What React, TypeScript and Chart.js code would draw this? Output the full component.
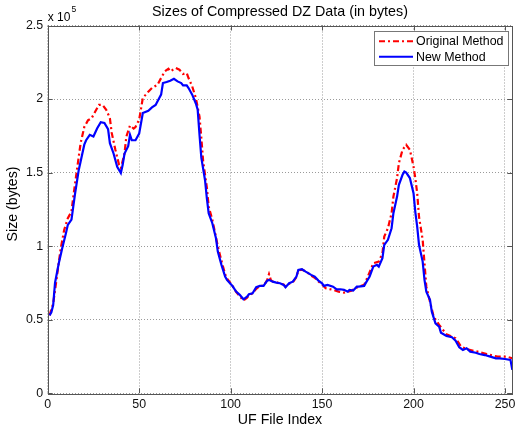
import React, { useEffect, useRef } from "react";
import { Chart, registerables } from "chart.js";

Chart.register(...registerables);

const chartTitle = "Sizes of Compressed DZ Data (in bytes)";
const xTitle = "UF File Index";
const yTitle = "Size (bytes)";
const seriesNames = ["Original Method", "New Method"];

const xTicks = [0, 50, 100, 150, 200, 250];
const yTicks = [0, 50000, 100000, 150000, 200000, 250000];
const yTickLabels = ["0", "0.5", "1", "1.5", "2", "2.5"];

// New Method (blue)
const newIdx = [
  1, 2, 3, 4, 6, 8, 10, 11, 13, 14, 15, 17, 18, 20, 21, 23, 25, 27, 29, 31, 33, 34, 36, 38, 40, 41, 42, 44, 45, 46,
  48, 50, 52, 55, 57, 59, 61, 62, 63, 65, 67, 69, 71, 73, 74, 76, 77, 79, 81, 82, 83, 84, 86, 87, 88, 90, 92, 93, 95, 97,
  98, 101, 103, 105, 107, 109, 110, 112, 114, 116, 118, 120, 121, 123, 125, 127, 129, 130, 132, 134, 136, 137, 139, 141, 142, 144, 146, 148, 150, 151,
  153, 156, 158, 160, 162, 164, 165, 167, 169, 170, 173, 174, 176, 178, 180, 181, 183, 184, 186, 188, 189, 191, 192, 194, 195, 196, 198, 200, 201, 202,
  203, 205, 206, 207, 209, 210, 212, 214, 215, 218, 221, 223, 225, 227, 229, 231, 234, 236, 239, 242, 245, 247, 250, 253, 254,
];
const newVals = [
  53000, 55000, 60000, 75000, 88000, 99000, 109000, 114500, 118000, 127000, 136000, 152000, 157500, 169000, 172000, 175700, 174500, 180000, 184300, 183700, 179600, 170000, 163000, 154000, 149700, 155300, 163000, 168000, 175700, 172000,
  172000, 176500, 190500, 192000, 194300, 196000, 200700, 203000, 210900, 211600, 212500, 213800, 212000, 210900, 209300, 209300, 207500, 203000, 197000, 192700, 175700, 160000, 145000, 132700, 122400, 115600, 105400, 96300, 87300, 79300,
  77100, 73000, 69100, 66900, 63900, 65700, 67300, 68000, 72100, 73000, 73000, 76600, 77100, 75900, 75200, 74800, 73700, 72100, 74800, 75900, 79300, 83900, 84300, 82700, 82000, 80500, 79300, 76600, 74800, 73000,
  73700, 72500, 70700, 70700, 70300, 69100, 70300, 69800, 72500, 72500, 73000, 75200, 79300, 86100, 87300, 86100, 91800, 100900, 104300, 112200, 122400, 133700, 141700, 148500, 150700, 150000, 146300, 136000, 123000, 113300,
  100900, 89500, 77100, 69100, 63500, 55500, 47600, 45300, 41200, 39000, 38100, 35800, 31300, 29500, 30600, 28300, 27600, 26700, 26000, 24900, 23800, 23800, 23300, 22700, 15900,
];

// Original Method (red)
const origIdx = [
  1, 3, 5, 7, 9, 11, 13, 14, 16, 18, 20, 22, 24, 26, 28, 30, 32, 34, 35, 37, 39, 40, 42, 43, 45, 47, 48, 50, 52, 55,
  57, 60, 62, 64, 66, 67, 70, 72, 74, 76, 77, 79, 81, 83, 84, 85, 87, 88, 90, 91, 93, 95, 97, 98, 101, 103, 105, 107, 109, 110,
  112, 114, 116, 118, 120, 121, 122, 123, 125, 127, 129, 130, 132, 134, 136, 137, 139, 141, 142, 144, 146, 148, 150, 152, 156, 159, 162, 164, 166, 170,
  173, 175, 178, 181, 183, 184, 186, 188, 189, 191, 192, 194, 196, 198, 199, 200, 201, 202, 203, 205, 206, 207, 209, 211, 214, 218, 223, 226, 229, 235,
  240, 246, 251, 254,
];
const origVals = [
  53000, 61000, 79000, 97500, 111000, 119000, 123500, 133700, 152000, 170000, 181000, 185500, 187000, 191500, 196000, 196000, 192700, 187000, 177000, 165500, 155300, 153000, 163000, 174500, 182000, 180000, 181000, 186000, 200700, 205000,
  207500, 209700, 214300, 218800, 220600, 218800, 221100, 220000, 217000, 217700, 214300, 208600, 200700, 188000, 173500, 157600, 140000, 127000, 118000, 112000, 100000, 90000, 81000, 78000, 73000, 69000, 66000, 63000, 65000, 66500,
  68000, 71000, 73000, 73000, 77000, 81000, 77000, 76000, 75500, 74500, 74000, 72500, 74500, 75500, 79000, 83500, 84000, 83000, 82000, 80000, 78500, 76000, 74000, 71400, 70300, 69100, 68400, 69000, 69800, 72500,
  73700, 79300, 88400, 89500, 95200, 106500, 112200, 122400, 133700, 146300, 156500, 165500, 168900, 165500, 160000, 154000, 146000, 136000, 120000, 104300, 88400, 72500, 62300, 52100, 46500, 40100, 37400, 31700, 30000, 28300,
  26700, 24900, 24900, 23800,
];

const toPoints = (xs: number[], ys: number[]) => xs.map((x, i) => ({ x, y: ys[i] }));

const FONT = '"Liberation Sans", Arial, sans-serif';

const decorPlugin = {
  id: "matlabDecor",
  afterDraw(chart: any) {
    const ctx = chart.ctx;
    const a = chart.chartArea;
    const xs = chart.scales.x;
    const ys = chart.scales.y;
    ctx.save();
    // frame
    ctx.strokeStyle = "#555";
    ctx.lineWidth = 1;
    ctx.strokeRect(Math.round(a.left) + 0.5, Math.round(a.top) + 0.5, Math.round(a.right - a.left) - 1, Math.round(a.bottom - a.top));
    // inward tick marks
    const tl = 5;
    ctx.beginPath();
    for (const v of xTicks) {
      const px = Math.round(xs.getPixelForValue(v)) + 0.5;
      ctx.moveTo(px, a.bottom);
      ctx.lineTo(px, a.bottom - tl);
      ctx.moveTo(px, a.top);
      ctx.lineTo(px, a.top + tl);
    }
    for (const v of yTicks) {
      const py = Math.round(ys.getPixelForValue(v)) + 0.5;
      ctx.moveTo(a.left, py);
      ctx.lineTo(a.left + tl, py);
      ctx.moveTo(a.right, py);
      ctx.lineTo(a.right - tl, py);
    }
    ctx.stroke();

    // title
    ctx.fillStyle = "#000";
    ctx.font = `14.3px ${FONT}`;
    ctx.textAlign = "center";
    ctx.textBaseline = "alphabetic";
    ctx.fillText(chartTitle, (a.left + a.right) / 2, 15.7);
    // x title
    ctx.font = `14.2px ${FONT}`;
    ctx.fillText(xTitle, (a.left + a.right) / 2, 424.3);
    // y title
    ctx.save();
    ctx.translate(17.3, 204);
    ctx.rotate(-Math.PI / 2);
    ctx.fillText(yTitle, 0, 0);
    ctx.restore();
    // exponent label
    ctx.textAlign = "left";
    ctx.font = `12px ${FONT}`;
    ctx.fillText("x 10", a.left, 20.7);
    const w = ctx.measureText("x 10").width;
    ctx.font = `8.5px ${FONT}`;
    ctx.fillText("5", a.left + w + 1, 11.7);

    // legend
    const lx = 374.5, ly = 31.5, lw = 134, lh = 34;
    ctx.fillStyle = "#fff";
    ctx.fillRect(lx, ly, lw, lh);
    ctx.strokeStyle = "#777";
    ctx.lineWidth = 1;
    ctx.strokeRect(lx, ly, lw, lh);
    const rows = [
      { y: 41.3, color: "#ff0000", dash: [6, 3, 2, 3], name: seriesNames[0] },
      { y: 56.7, color: "#0000ff", dash: [], name: seriesNames[1] },
    ];
    for (const r of rows) {
      ctx.beginPath();
      ctx.setLineDash(r.dash);
      ctx.strokeStyle = r.color;
      ctx.lineWidth = 2;
      ctx.moveTo(379, r.y);
      ctx.lineTo(413, r.y);
      ctx.stroke();
      ctx.setLineDash([]);
      ctx.fillStyle = "#000";
      ctx.font = `12.4px ${FONT}`;
      ctx.textAlign = "left";
      ctx.textBaseline = "middle";
      ctx.fillText(r.name, 416, r.y + 0.5);
    }
    ctx.restore();
  },
};

export default function App() {
  const ref = useRef<HTMLCanvasElement | null>(null);
  useEffect(() => {
    const canvas = ref.current;
    if (!canvas) return;
    const chart = new Chart(canvas, {
      type: "line",
      data: {
        datasets: [
          {
            label: seriesNames[1],
            data: toPoints(newIdx, newVals),
            borderColor: "#0000ff",
            borderWidth: 2.2,
            pointRadius: 0,
            tension: 0,
            fill: false,
            order: 0,
          },
          {
            label: seriesNames[0],
            data: toPoints(origIdx, origVals),
            borderColor: "#ff0000",
            borderWidth: 2.2,
            borderDash: [6, 3, 2, 3],
            pointRadius: 0,
            tension: 0,
            fill: false,
            order: 1,
          },
        ],
      },
      options: {
        responsive: false,
        animation: false,
        devicePixelRatio: 1,
        layout: { padding: { left: 0, top: 25.5, right: 2.7, bottom: 0 } },
        plugins: {
          legend: { display: false },
          title: { display: false },
          tooltip: { enabled: false },
        },
        scales: {
          x: {
            type: "linear",
            min: 0,
            max: 254,
            afterBuildTicks: (s: any) => {
              s.ticks = xTicks.map((v) => ({ value: v }));
            },
            afterFit: (s: any) => {
              s.height = 35.7;
              s.paddingLeft = 0;
              s.paddingRight = 0;
            },
            grid: {
              color: "#9a9a9a",
              lineWidth: 1,
              drawTicks: false,
              tickLength: 0,
            },
            border: { display: false, dash: [1, 2] },
            ticks: {
              color: "#111",
              font: { family: FONT, size: 12.4 },
              padding: 4,
              maxRotation: 0,
              autoSkip: false,
            },
          },
          y: {
            type: "linear",
            min: 0,
            max: 250000,
            afterBuildTicks: (s: any) => {
              s.ticks = yTicks.map((v) => ({ value: v }));
            },
            afterFit: (s: any) => {
              s.width = 47.7;
              s.paddingTop = 0;
              s.paddingBottom = 0;
            },
            grid: {
              color: "#9a9a9a",
              lineWidth: 1,
              drawTicks: false,
              tickLength: 0,
            },
            border: { display: false, dash: [1, 2] },
            ticks: {
              color: "#111",
              font: { family: FONT, size: 12.4 },
              padding: 4.5,
              autoSkip: false,
              callback: (_v: any, i: number) => yTickLabels[i],
            },
          },
        },
      },
      plugins: [decorPlugin],
    });
    return () => chart.destroy();
  }, []);
  return (
    <div style={{ position: "fixed", left: 0, top: 0, width: 515, height: 429, background: "#fff" }}>
      <canvas ref={ref} width={515} height={429} style={{ display: "block" }} />
    </div>
  );
}
